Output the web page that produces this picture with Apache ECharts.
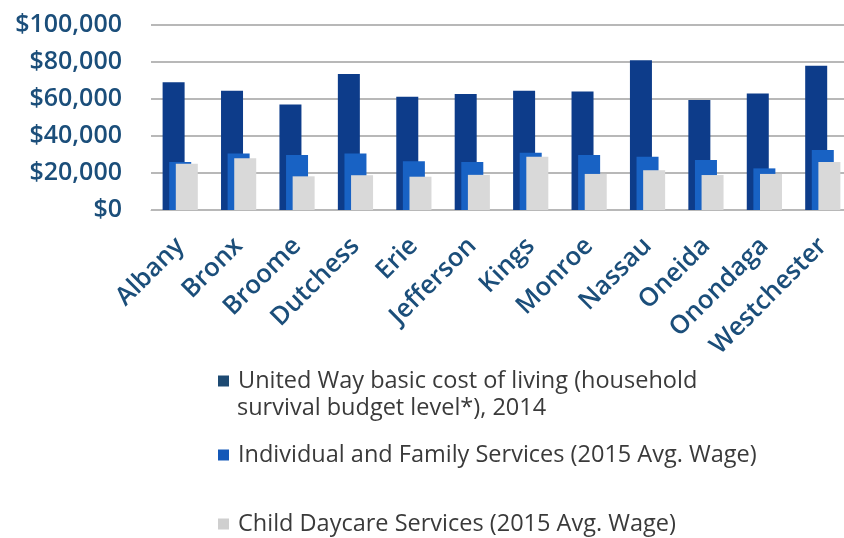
<!DOCTYPE html>
<html><head><meta charset="utf-8">
<script src="https://cdn.jsdelivr.net/npm/echarts@6/dist/echarts.min.js"></script>
<style>html,body{margin:0;padding:0;background:#fff}#c{width:844px;height:538px}</style>
</head><body><div id="c"></div>
<script>
const categories = ['Albany','Bronx','Broome','Dutchess','Erie','Jefferson','Kings','Monroe','Nassau','Oneida','Onondaga','Westchester'];
const unitedWay = [69000, 64500, 57000, 73500, 61200, 62700, 64500, 64000, 81000, 59500, 63000, 78000];
const individualFamily = [26000, 30500, 29700, 30600, 26300, 26000, 31000, 29700, 28800, 27000, 22500, 32400];
const childDaycare = [25000, 28000, 18200, 18800, 18000, 19000, 28800, 19500, 21500, 18900, 19500, 26000];
const seriesNames = [
  'United Way basic cost of living (household survival budget level*), 2014',
  'Individual and Family Services (2015 Avg. Wage)',
  'Child Daycare Services (2015 Avg. Wage)'
];
const legendLine1 = 'United Way basic cost of living (household';
const legendLine2 = 'survival budget level*), 2014';
const yTicks = [0, 20000, 40000, 60000, 80000, 100000];

const chart = echarts.init(document.getElementById('c'));
const font = '"Open Sans", sans-serif';
const colors = ['#0d3c8a', '#1862c4', '#d9d9d9'];
const legendIcons = ['#1d4a72', '#1458b8', '#cfcfcf'];
const legendStyle = {color:'#3a3a3a', fontSize:23.5, fontFamily:font, padding:[0,0,0,4]};
function mkLegend(i, top, fmt){
  const o = {show:true, orient:'vertical', left:213, top:top, itemWidth:11, itemHeight:11, icon:'rect',
    data:[{name:seriesNames[i], itemStyle:{color:legendIcons[i]}}], textStyle:legendStyle, itemGap:0, selectedMode:false};
  if (fmt) o.formatter = fmt;
  return o;
}
chart.setOption({
  animation:false,
  grid:{left:151, top:25, width:701, bottom:328, containLabel:false, outerBoundsMode:'none'},
  legend:[mkLegend(0, 364, () => legendLine1), mkLegend(1, 438), mkLegend(2, 507)],
  graphic:[{type:'text', left:237, top:396, style:{text:legendLine2, fill:'#3a3a3a', font:'23.5px "Open Sans", sans-serif'}}],
  xAxis:{type:'category', data:categories,
    axisLine:{show:true, lineStyle:{color:'#b8b8b8', width:1}},
    axisTick:{show:false},
    axisLabel:{rotate:45, margin:32, color:'#1b4e7a', fontSize:25.5, fontWeight:600, fontFamily:font, interval:0}},
  yAxis:{type:'value', min:yTicks[0], max:yTicks[yTicks.length-1], interval:20000,
    axisLine:{show:false}, axisTick:{show:false},
    splitLine:{lineStyle:{color:'#a0a0a0', width:1.5}},
    axisLabel:{margin:29, color:'#1b4e7a', fontSize:25, fontWeight:600, fontFamily:font,
      formatter:v => '$' + v.toLocaleString('en-US')}},
  series:[
    {name:seriesNames[0], type:'bar', data:unitedWay, barWidth:22, barGap:'-70%', itemStyle:{color:colors[0]}},
    {name:seriesNames[1], type:'bar', data:individualFamily, barWidth:22, barGap:'-70%', itemStyle:{color:colors[1]}},
    {name:seriesNames[2], type:'bar', data:childDaycare, barWidth:22, barGap:'-70%', itemStyle:{color:colors[2]}}
  ]
});
</script></body></html>
